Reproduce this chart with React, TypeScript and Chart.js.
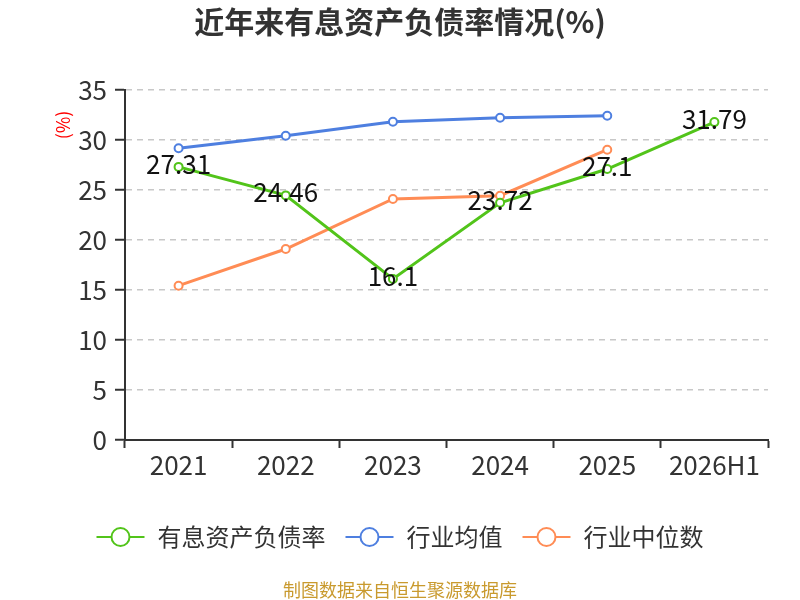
import { useEffect, useRef } from "react"
import { Chart, registerables } from "chart.js"

Chart.register(...registerables)

const categories = ["2021", "2022", "2023", "2024", "2025", "2026H1"]
const debtRatio = [27.31, 24.46, 16.1, 23.72, 27.1, 31.79]
const industryMean = [29.17, 30.43, 31.83, 32.23, 32.43, null]
const industryMedian = [15.43, 19.1, 24.1, 24.43, 29.03, null]
const seriesNames = ["有息资产负债率", "行业均值", "行业中位数"]
const seriesColors = ["#52c41a", "#4e7fe0", "#ff8c55"]
const yMin = 0
const yMax = 35
const yStep = 5

const FONT = "'Noto Sans CJK SC', 'Noto Sans', sans-serif"

const decorPlugin = {
  id: "decor",
  afterDatasetsDraw(chart: Chart) {
    // value labels on the first series
    const ctx = chart.ctx
    const meta = chart.getDatasetMeta(0)
    ctx.save()
    ctx.font = `26px ${FONT}`
    ctx.fillStyle = "#111"
    ctx.textAlign = "center"
    ctx.textBaseline = "middle"
    meta.data.forEach((pt, i) => {
      ctx.fillText(String(debtRatio[i]), pt.x, pt.y - 3)
    })
    ctx.restore()
  },
  afterDraw(chart: Chart) {
    const ctx = chart.ctx
    ctx.save()

    // title
    ctx.font = `bold 30px ${FONT}`
    ctx.fillStyle = "#333"
    ctx.textAlign = "center"
    ctx.textBaseline = "middle"
    ctx.fillText("近年来有息资产负债率情况(%)", 400, 22)

    // unit label
    ctx.save()
    ctx.translate(63, 125)
    ctx.rotate(-Math.PI / 2)
    ctx.font = `18px ${FONT}`
    ctx.fillStyle = "#ff0000"
    ctx.fillText("(%)", 0, 0)
    ctx.restore()

    // legend
    ctx.font = `24px ${FONT}`
    const gap = 20
    const widths = seriesNames.map((n) => 61 + ctx.measureText(n).width)
    const total = widths.reduce((a, b) => a + b, 0) + gap * (widths.length - 1)
    let x = 400 - total / 2
    const y = 537
    seriesNames.forEach((name, i) => {
      ctx.strokeStyle = seriesColors[i]
      ctx.lineWidth = 2
      ctx.beginPath()
      ctx.moveTo(x, y)
      ctx.lineTo(x + 48, y)
      ctx.stroke()
      ctx.beginPath()
      ctx.arc(x + 24, y, 9, 0, Math.PI * 2)
      ctx.fillStyle = "#fff"
      ctx.fill()
      ctx.stroke()
      ctx.fillStyle = "#333"
      ctx.textAlign = "left"
      ctx.fillText(name, x + 61, y)
      x += widths[i] + gap
    })

    // source
    ctx.font = `18px ${FONT}`
    ctx.fillStyle = "#c99a2e"
    ctx.textAlign = "center"
    ctx.fillText("制图数据来自恒生聚源数据库", 400, 590)

    ctx.restore()
  },
}

export default function App() {
  const chartRef = useRef<HTMLCanvasElement>(null)
  const chartInstance = useRef<Chart | null>(null)

  useEffect(() => {
    if (!chartRef.current) return
    const ctx = chartRef.current.getContext("2d")
    if (!ctx) return
    if (chartInstance.current) chartInstance.current.destroy()

    const series = [debtRatio, industryMean, industryMedian]

    chartInstance.current = new Chart(ctx, {
      type: "line",
      data: {
        labels: categories,
        datasets: series.map((data, i) => ({
          label: seriesNames[i],
          data: data as (number | null)[],
          borderColor: seriesColors[i],
          backgroundColor: seriesColors[i],
          borderWidth: 3,
          pointRadius: 4,
          pointBorderWidth: 2,
          pointBackgroundColor: "#fff",
          pointBorderColor: seriesColors[i],
          tension: 0,
          fill: false,
        })),
      },
      options: {
        animation: false,
        responsive: true,
        maintainAspectRatio: false,
        layout: {
          padding: { top: 90, right: 32, bottom: 110, left: 0 },
        },
        plugins: {
          legend: { display: false },
          title: { display: false },
          tooltip: { enabled: false },
        },
        scales: {
          x: {
            type: "category",
            offset: true,
            afterFit: (scale) => {
              scale.height = 50
            },
            grid: {
              display: true,
              drawOnChartArea: false,
              drawTicks: true,
              tickLength: 8,
              tickColor: "#333",
              tickWidth: 2,
              offset: true,
            },
            border: { display: true, color: "#333", width: 2 },
            ticks: {
              color: "#333",
              font: { size: 26, family: FONT },
              padding: 2,
              maxRotation: 0,
              autoSkip: false,
            },
          },
          y: {
            min: yMin,
            max: yMax,
            afterFit: (scale) => {
              scale.width = 125
            },
            grid: {
              color: (c) => (c.tick && c.tick.value === 0 ? "rgba(0,0,0,0)" : "#c8c8c8"),
              lineWidth: 1.5,
              drawTicks: true,
              tickLength: 10,
              tickColor: "#333",
              tickWidth: 2,
              tickBorderDash: [],
            },
            border: { display: true, color: "#333", width: 2, dash: [6, 5] },
            ticks: {
              stepSize: yStep,
              color: "#333",
              font: { size: 26, family: FONT },
              padding: 8,
            },
          },
        },
      },
      plugins: [decorPlugin],
    })

    return () => {
      if (chartInstance.current) {
        chartInstance.current.destroy()
        chartInstance.current = null
      }
    }
  }, [])

  return (
    <div style={{ position: "absolute", left: 0, top: 0, width: 800, height: 600, background: "#fff" }}>
      <canvas ref={chartRef} />
    </div>
  )
}
